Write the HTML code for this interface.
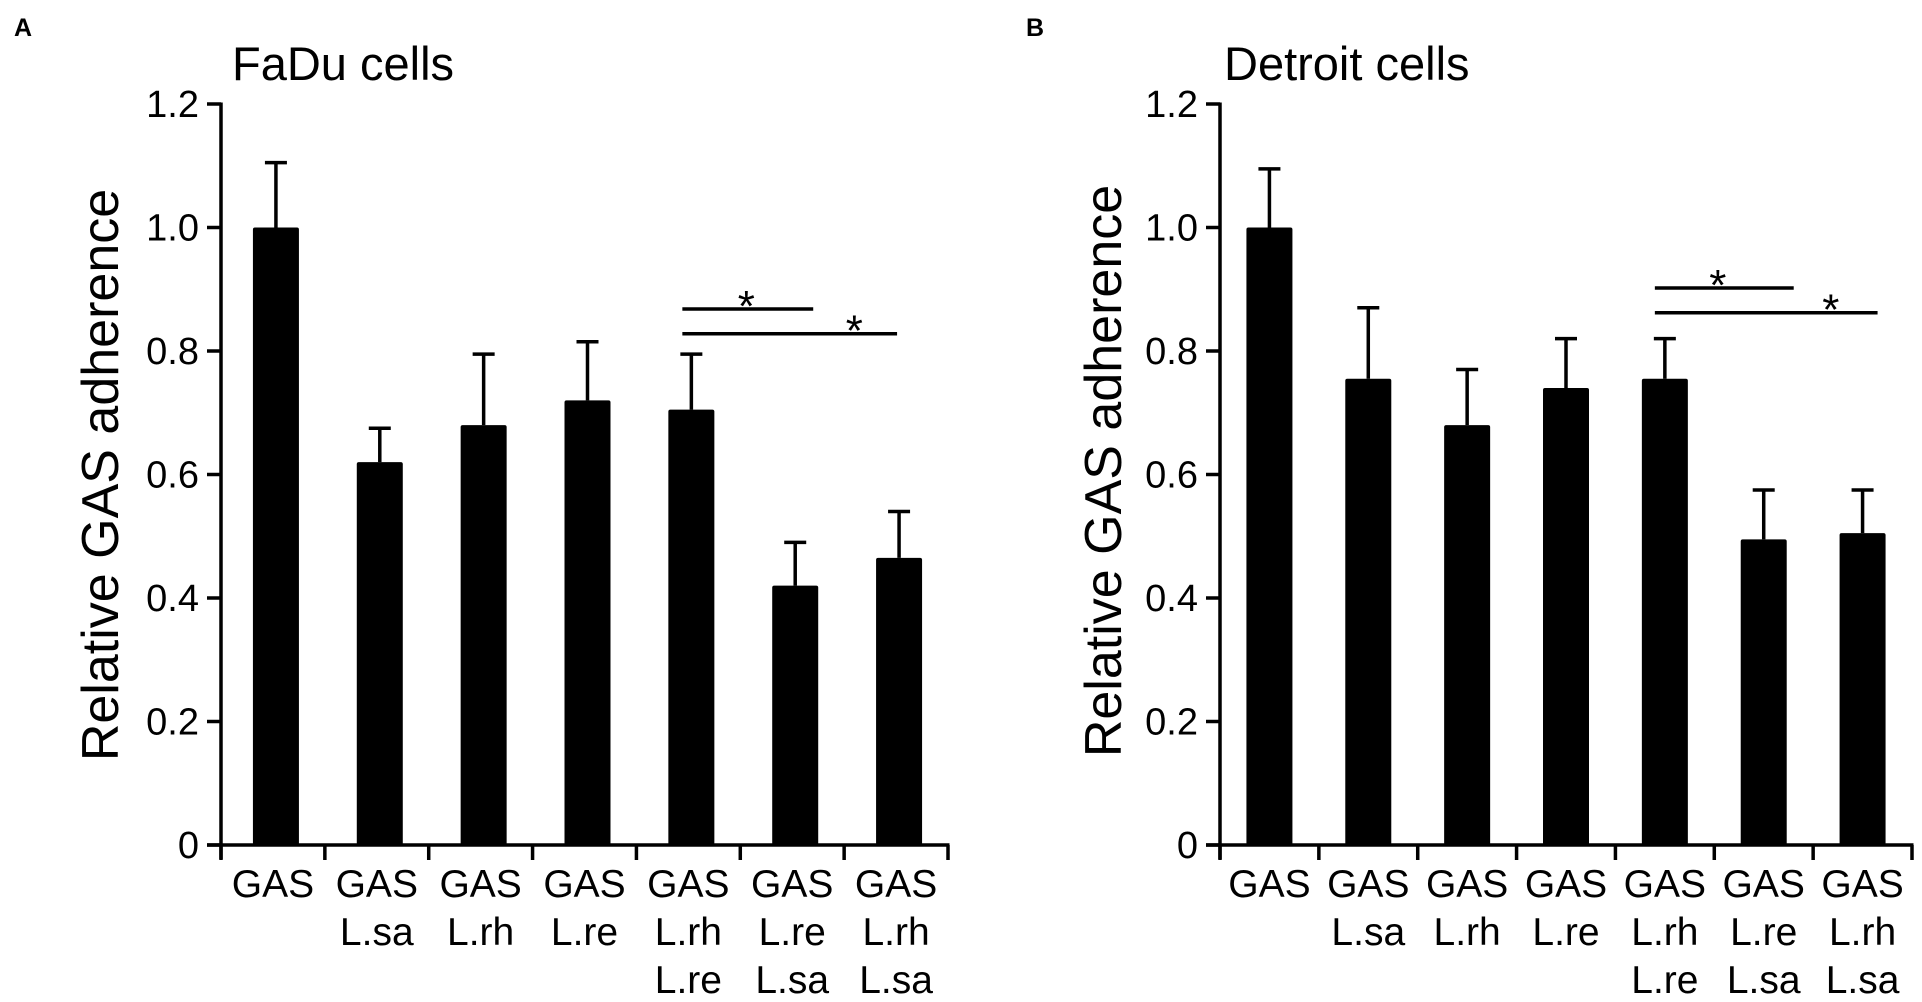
<!DOCTYPE html>
<html><head><meta charset="utf-8"><style>
html,body{margin:0;padding:0;background:#fff;}
svg{display:block;font-family:"Liberation Sans",Arial,sans-serif;}
</style></head><body>
<svg id="chart" width="1922" height="1002" viewBox="0 0 1922 1002" xmlns="http://www.w3.org/2000/svg"></svg>
<script>
const categories = [["GAS"],["GAS","L.sa"],["GAS","L.rh"],["GAS","L.re"],["GAS","L.rh","L.re"],["GAS","L.re","L.sa"],["GAS","L.rh","L.sa"]];
const yTicks = [0,0.2,0.4,0.6,0.8,1.0,1.2];
const yTickLabels = ["0","0.2","0.4","0.6","0.8","1.0","1.2"];
const fadValues = [1.0,0.62,0.68,0.72,0.705,0.42,0.465];
const fadErrors = [0.105,0.055,0.115,0.095,0.09,0.07,0.075];
const detValues = [1.0,0.755,0.68,0.74,0.755,0.495,0.505];
const detErrors = [0.095,0.115,0.09,0.08,0.065,0.08,0.07];
const fadSig = [[4,5,0.868],[4,6,0.828]];
const detSig = [[4,5,0.902],[4,6,0.862]];

const NS="http://www.w3.org/2000/svg";
const svg=document.getElementById('chart');
function mk(tag,attrs,parent,text){const e=document.createElementNS(NS,tag);for(const k in attrs)e.setAttribute(k,attrs[k]);if(text!==undefined)e.textContent=text;parent.appendChild(e);return e;}

function panel(cfg){
  const g=mk('g',{},svg);
  
  
  const y=v=>cfg.y0-(cfg.y0-cfg.y1)*v/1.2;
  const catW=(cfg.xEnd-cfg.x0)/categories.length;
  const cx=i=>cfg.x0+catW*(i+0.5)+cfg.barShift;
  const lbl=mk('text',{x:cfg.labelX,y:36,'font-size':25,'font-weight':'bold'},g,cfg.letter);
  
  
  const t=mk('text',{x:cfg.titleX,y:80,'font-size':47},g,cfg.title);
  
  
  const yt=mk('text',{x:0,y:0,'font-size':52,'text-anchor':'middle',transform:`translate(${cfg.ytX},${cfg.ytY}) rotate(-90)`},g,'Relative GAS adherence');
  
  
  const ya=mk('line',{x1:cfg.x0,y1:cfg.y1-1.5,x2:cfg.x0,y2:cfg.y0+14,stroke:'#000','stroke-width':3.5},g);
  
  
  const xa=mk('line',{x1:cfg.x0-14,y1:cfg.y0,x2:cfg.xEnd+1.5,y2:cfg.y0,stroke:'#000','stroke-width':3.5},g);
  
  
  yTicks.forEach((v,i)=>{
    const tk=mk('line',{x1:cfg.x0-14,y1:y(v),x2:cfg.x0,y2:y(v),stroke:'#000','stroke-width':3.5},g);
    
    
    const tl=mk('text',{x:cfg.x0-22,y:y(v)+13,'font-size':38,'text-anchor':'end'},g,yTickLabels[i]);
    
    
  });
  for(let i=0;i<=categories.length;i++){
    const xt=cfg.x0+catW*i;
    const tk=mk('line',{x1:xt,y1:cfg.y0,x2:xt,y2:cfg.y0+15,stroke:'#000','stroke-width':3.5},g);
    
    
  }
  categories.forEach((c,i)=>{
    c.forEach((line,j)=>{
      const tl=mk('text',{x:cfg.x0+catW*(i+0.5),y:897+j*48,'font-size':39,'text-anchor':'middle'},g,line);
      
      
    });
    const v=cfg.values[i],e=cfg.errors[i];
    const el=mk('line',{x1:cx(i),y1:y(v),x2:cx(i),y2:y(v+e),stroke:'#000','stroke-width':3.5},g);
    
    
    const cap=mk('line',{x1:cx(i)-11,y1:y(v+e),x2:cx(i)+11,y2:y(v+e),stroke:'#000','stroke-width':3.5},g);
    
    
    const b=mk('rect',{x:cx(i)-23,y:y(v),width:46,height:cfg.y0-y(v),fill:'#000',rx:2},g);
    
    
  });
  cfg.sig.forEach((s,k)=>{
    const xa1=cx(s[0])-cfg.sigStart, xa2=cx(s[1])+cfg.sigEnd[k];
    const sl=mk('line',{x1:xa1,y1:y(s[2]),x2:xa2,y2:y(s[2]),stroke:'#000','stroke-width':3.5},g);
    
    
    const st=mk('text',{x:xa1+cfg.astOff[k],y:y(s[2])+12,'font-size':44,'text-anchor':'middle'},g,'*');
    
    
  });
}
panel({name:'fadu-panel',letter:'A',labelX:14,title:'FaDu cells',titleX:232,ytX:118,ytY:475,x0:221,xEnd:948,y0:845,y1:104,barShift:3,values:fadValues,errors:fadErrors,sig:fadSig,sigStart:9,sigEnd:[18,-2],astOff:[64,172]});
panel({name:'detroit-panel',letter:'B',labelX:1026,title:'Detroit cells',titleX:1224,ytX:1121,ytY:471,x0:1220,xEnd:1912,y0:845,y1:104,barShift:0,values:detValues,errors:detErrors,sig:detSig,sigStart:10,sigEnd:[30,15],astOff:[63,176]});
</script>
</body></html>
